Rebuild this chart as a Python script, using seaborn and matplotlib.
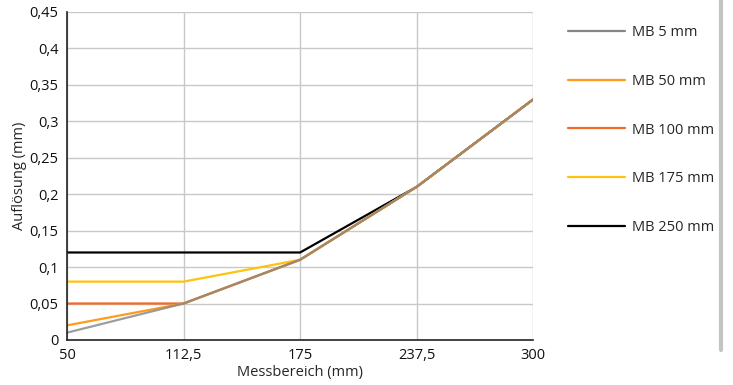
import pandas as pd
import matplotlib.pyplot as plt
import seaborn as sns
from matplotlib.lines import Line2D
from matplotlib.ticker import FuncFormatter

messbereich = [50, 112.5, 175, 237.5, 300]
mb_5 = [0.01, 0.05, 0.11, 0.21, 0.33]
mb_50 = [0.02, 0.05, 0.11, 0.21, 0.33]
mb_100 = [0.05, 0.05, 0.11, 0.21, 0.33]
mb_175 = [0.08, 0.08, 0.11, 0.21, 0.33]
mb_250 = [0.12, 0.12, 0.12, 0.21, 0.33]

series = {
    "MB 5 mm": mb_5,
    "MB 50 mm": mb_50,
    "MB 100 mm": mb_100,
    "MB 175 mm": mb_175,
    "MB 250 mm": mb_250,
}
colors = {
    "MB 5 mm": "#858585",
    "MB 50 mm": "#FF9A1F",
    "MB 100 mm": "#F26A23",
    "MB 175 mm": "#FFC20E",
    "MB 250 mm": "#000000",
}

rows = []
for name, vals in series.items():
    for x, y in zip(messbereich, vals):
        rows.append({"Messbereich": x, "Aufloesung": y, "Serie": name})
df = pd.DataFrame(rows)

sns.set_theme(style="white")
plt.rcParams["font.family"] = ["Open Sans", "DejaVu Sans"]

fig = plt.figure(figsize=(7.33, 3.85), dpi=100)
ax = fig.add_axes([0.0914, 0.117, 0.636, 0.852])

# draw in reverse so the grey line ends up on top, as in the reference
draw_order = ["MB 250 mm", "MB 175 mm", "MB 100 mm", "MB 50 mm", "MB 5 mm"]
for name in draw_order:
    sub = df[df["Serie"] == name]
    sns.lineplot(data=sub, x="Messbereich", y="Aufloesung", ax=ax,
                 color=colors[name], linewidth=1.6,
                 alpha=0.8 if name == "MB 5 mm" else 1.0)

ax.set_xlim(50, 300)
ax.set_ylim(0, 0.45)
ax.set_xticks(messbereich)
ax.set_yticks([i * 0.05 for i in range(10)])

def de_fmt(v, pos):
    s = f"{v:.2f}".rstrip("0").rstrip(".")
    return s.replace(".", ",")

ax.xaxis.set_major_formatter(FuncFormatter(de_fmt))
ax.yaxis.set_major_formatter(FuncFormatter(de_fmt))
ax.tick_params(axis="both", labelsize=10.5, length=0, colors="#111111")
ax.tick_params(axis="x", pad=6)
ax.tick_params(axis="y", pad=6)
ax.grid(True, color="#c8c8c8", linewidth=1)
for side in ["top", "right"]:
    ax.spines[side].set_visible(False)
for side in ["left", "bottom"]:
    ax.spines[side].set_color("#222222")
    ax.spines[side].set_linewidth(1.2)

ax.set_xlabel("Messbereich (mm)", fontsize=10.5, labelpad=1)
ax.set_ylabel("Auflösung (mm)", fontsize=10.5, labelpad=2)

handles = [Line2D([0], [0], color=colors[n], linewidth=1.6) for n in series]
fig.legend(handles, list(series.keys()), loc="upper left",
           bbox_to_anchor=(0.757, 0.968), frameon=False, fontsize=10.5,
           labelspacing=2.3, handlelength=3.9, handletextpad=0.5)

fig.add_artist(Line2D([0.984, 0.984], [0.09, 1.0], color="#c4c4c4",
                      linewidth=3, transform=fig.transFigure))

fig.savefig("out.png", dpi=100)
